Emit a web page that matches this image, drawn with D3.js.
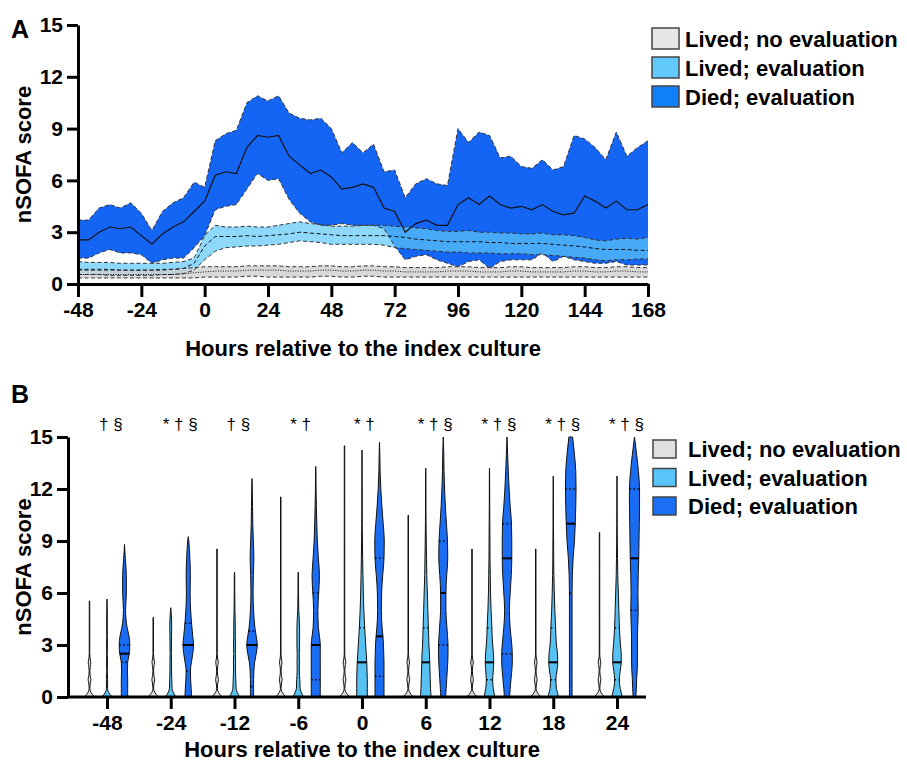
<!doctype html>
<html>
<head>
<meta charset="utf-8">
<title>nSOFA score</title>
<script src="https://d3js.org/d3.v7.min.js"></script>
<style>
  body { margin: 0; background: #ffffff; }
  svg text { font-family: "Liberation Sans", Arial, Helvetica, sans-serif; }
</style>
</head>
<body>
<script>
// ---------- Panel A data (median and IQR, every 4 h) ----------
var hours = [-48,-44,-40,-36,-32,-28,-24,-20,-16,-12,-8,-4,
             0,4,8,12,16,20,24,28,32,36,40,44,
             48,52,56,60,64,68,72,76,80,84,88,92,
             96,100,104,108,112,116,120,124,128,132,136,140,
             144,148,152,156,160,164,168];

var diedHi = [3.7,3.7,4.4,4.6,4.4,4.7,4.1,3.1,4.2,4.7,5.0,5.9,
              5.6,8.3,8.7,8.9,10.5,10.9,10.6,10.9,9.9,9.6,9.5,9.6,
              9.0,7.6,8.2,7.6,8.1,6.5,6.6,5.0,5.8,6.1,5.8,5.7,
              9.0,8.2,8.8,8.6,7.3,7.4,6.8,6.7,7.2,6.6,6.8,8.6,
              8.4,7.9,7.2,8.8,7.4,7.9,8.3];
var diedMid = [2.55,2.55,3.0,3.3,3.2,3.3,2.8,2.3,2.9,3.3,3.6,4.2,
               4.8,6.3,6.5,6.4,7.9,8.6,8.5,8.6,7.4,6.9,6.4,6.6,
               6.2,5.5,5.6,5.8,5.6,4.4,4.2,3.0,3.5,3.7,3.4,3.4,
               4.6,5.0,4.6,5.1,4.6,4.4,4.5,4.3,4.6,4.2,4.0,4.1,
               5.1,4.8,4.4,4.8,4.3,4.3,4.6];
var diedLo = [1.5,1.5,1.8,2.0,1.8,1.8,1.7,1.2,1.4,1.5,1.5,2.1,
              2.8,4.3,4.5,4.6,5.5,6.4,6.0,6.1,4.9,4.1,3.6,3.4,
              3.4,3.5,3.4,3.4,3.4,3.2,2.2,1.4,1.6,1.7,1.4,1.2,
              1.0,1.3,1.4,0.9,1.3,1.4,1.4,1.4,1.8,1.3,1.6,1.4,
              1.3,1.2,1.2,1.3,1.1,1.1,1.1];

var evalHi = [1.3,1.25,1.25,1.25,1.2,1.2,1.2,1.2,1.2,1.25,1.3,1.5,
              2.8,3.4,3.3,3.3,3.35,3.3,3.3,3.4,3.5,3.6,3.5,3.45,
              3.35,3.35,3.35,3.4,3.4,3.4,3.35,3.3,3.25,3.2,3.1,3.05,
              3.05,3.1,3.0,3.0,2.95,2.95,2.9,2.9,2.95,2.85,2.85,2.8,
              2.7,2.55,2.5,2.6,2.65,2.6,2.7];
var evalMid = [0.85,0.85,0.85,0.85,0.8,0.8,0.8,0.8,0.85,0.85,0.9,1.2,
               2.2,2.75,2.75,2.75,2.8,2.75,2.8,2.85,2.9,3.0,2.95,2.9,
               2.85,2.8,2.8,2.8,2.8,2.8,2.75,2.7,2.6,2.55,2.5,2.45,
               2.45,2.45,2.45,2.4,2.4,2.35,2.35,2.35,2.35,2.3,2.25,2.2,
               2.15,2.05,2.0,2.0,2.0,1.95,1.95];
var evalLo = [0.55,0.55,0.55,0.5,0.5,0.5,0.5,0.5,0.55,0.55,0.6,0.8,
              1.4,1.9,2.1,2.15,2.2,2.2,2.25,2.3,2.4,2.5,2.45,2.4,
              2.3,2.3,2.3,2.3,2.3,2.25,2.1,2.05,2.0,1.95,1.9,1.85,
              1.85,1.8,1.8,1.8,1.75,1.75,1.75,1.7,1.7,1.65,1.6,1.55,
              1.5,1.4,1.35,1.4,1.4,1.45,1.45];

var noEvalHi = [0.8,0.8,0.8,0.8,0.8,0.8,0.8,0.8,0.8,0.85,0.9,0.95,
                1.0,1.0,1.0,1.0,1.05,1.05,1.05,1.05,1.0,1.0,1.0,1.05,
                1.05,1.0,1.0,1.05,1.05,1.0,1.0,0.95,0.95,0.95,0.95,1.0,
                1.0,1.0,0.95,0.95,0.95,1.0,1.0,0.95,0.95,0.95,0.95,1.0,
                1.0,0.95,0.95,1.0,1.0,0.95,0.95];
var noEvalMid = [0.55,0.55,0.55,0.55,0.55,0.55,0.55,0.55,0.55,0.55,0.6,0.65,
                 0.7,0.75,0.75,0.75,0.8,0.8,0.8,0.8,0.75,0.75,0.75,0.8,
                 0.8,0.75,0.75,0.8,0.8,0.75,0.75,0.7,0.7,0.7,0.7,0.75,
                 0.75,0.75,0.7,0.7,0.7,0.75,0.75,0.7,0.7,0.7,0.7,0.75,
                 0.75,0.7,0.7,0.75,0.75,0.7,0.7];
var noEvalLo = [0.35,0.35,0.35,0.35,0.35,0.35,0.35,0.35,0.35,0.35,0.35,0.35,
                0.4,0.4,0.4,0.4,0.45,0.45,0.4,0.4,0.4,0.4,0.4,0.45,
                0.45,0.4,0.4,0.45,0.45,0.4,0.4,0.4,0.4,0.4,0.4,0.4,
                0.4,0.4,0.4,0.4,0.4,0.4,0.4,0.4,0.4,0.4,0.4,0.4,
                0.4,0.4,0.4,0.4,0.4,0.4,0.4];

var xTicksA = [-48,-24,0,24,48,72,96,120,144,168];
var yTicks = [0,3,6,9,12,15];
var groupNames = ["Lived; no evaluation", "Lived; evaluation", "Died; evaluation"];

// ---------- Panel B data (violins) ----------
var times = ["-48","-24","-12","-6","0","6","12","18","24"];
var signif = ["\u2020 \u00a7","* \u2020 \u00a7","\u2020 \u00a7","* \u2020","* \u2020",
              "* \u2020 \u00a7","* \u2020 \u00a7","* \u2020 \u00a7","* \u2020 \u00a7"];

var noEvalMax = [5.55,4.6,8.55,11.55,14.5,10.5,8.55,8.55,9.5];
var evalMax   = [5.65,5.15,7.2,7.2,14.25,13.2,13.2,12.75,12.75];
var diedMax   = [8.8,9.25,12.6,13.3,14.7,15,15,15,15];

var evalMed = [0,0,0,0,2,2,2,2,2];
var evalQ1  = [0,0,0,0,0,0,1,1,1];
var evalQ3  = [0,0,0,0,4,4,4,4,4];
var diedMed = [2.5,3,3,3,3.5,6,8,10,8];
var diedQ1  = [2,1.5,0.6,1,1.2,3,2.5,6,5];
var diedQ3  = [3,4.25,3.8,6,8,9,10,12,12];

// relative violin width at these score levels
var shapeLevels = [0,0.25,0.5,1,1.5,2,2.5,3,3.5,4,5,6,7,8,9,10,11,12,13,14,15];
var noEvalLevels = [0,0.25,0.5,0.75,1,1.25,1.5,1.75,2,2.25,2.5,3];
var noEvalShape  = [1,0.3,0.06,0.12,0.26,0.12,0.06,0.12,0.24,0.1,0.05,0.05];

var evalShapes = [
  [1,.35,.1,.12,.05,.1,.05,.08,.05,.06,.05],
  [1,.5,.25,.2,.15,.15,.12,.15,.15,.18,.05],
  [1,.55,.3,.25,.18,.2,.15,.18,.15,.15,.08,.05,.04],
  [1,.6,.35,.3,.2,.22,.2,.25,.25,.25,.1,.05,.04],
  [1,1,1,1,.95,.9,.8,.7,.6,.5,.35,.25,.18,.12,.08,.05,.04,.03,.02,.02],
  [1,.95,.9,.85,.8,.75,.7,.6,.55,.5,.4,.3,.2,.15,.1,.06,.04,.03,.02],
  [1,.85,.7,.6,.7,.8,.75,.6,.5,.45,.3,.2,.15,.1,.08,.06,.04,.03,.02],
  [1,.8,.6,.5,.7,.85,.8,.6,.5,.45,.3,.2,.12,.08,.06,.04,.03,.02],
  [1,.8,.6,.45,.6,.8,.8,.65,.55,.45,.35,.25,.15,.1,.06,.04,.03,.02]
];
var diedShapes = [
  [.6,.6,.6,.6,.55,.6,.9,1,.85,.5,.2,.35,.35,.15],
  [.6,.6,.55,.45,.4,.6,.85,1,.85,.7,.45,.35,.4,.3,.1],
  [.3,.3,.3,.3,.35,.5,.8,1,.8,.55,.3,.2,.25,.35,.25,.15,.1,.05],
  [.85,.85,.85,.85,.85,.85,.85,.85,.7,.5,.4,.55,.7,.5,.3,.2,.12,.06,.04],
  [.85,.85,.85,.85,.85,.85,.8,.75,.65,.5,.35,.4,.6,.85,.9,.7,.45,.25,.12,.06],
  [.45,.5,.55,.65,.75,.85,.9,.9,.8,.7,.5,.5,.65,.85,.8,.6,.4,.25,.15,.1,0],
  [.5,.55,.6,.75,.9,1,1,.9,.75,.6,.45,.6,.8,.9,.9,.85,.6,.4,.25,.12,0],
  [.25,.25,.25,.25,.25,.25,.25,.25,.25,.25,.25,.25,.3,.45,.7,.85,.95,1,.95,.7,.35],
  [.25,.3,.35,.4,.5,.55,.55,.55,.55,.6,.7,.65,.7,.8,.85,.9,.95,.95,.75,.4,0]
];

var W = 907, H = 763;
var svg = d3.select("body").append("svg").attr("width", W).attr("height", H);

function styleAxis(g) {
  g.selectAll(".domain").attr("stroke", "#000").attr("stroke-width", 3);
  g.selectAll(".tick line").attr("stroke", "#000").attr("stroke-width", 3);
  g.selectAll(".tick text").attr("fill", "#000")
    .style("font-size", "21px").style("font-weight", "bold");
}
var plainNum = function(d) { return String(d); };  // hyphen minus, as in the figure

// ================= Panel A =================
var xA = d3.scaleLinear().domain([-48, 168]).range([78, 648]);
var yA = d3.scaleLinear().domain([0, 15]).range([284, 25]);

svg.append("clipPath").attr("id", "clipA").append("rect")
  .attr("x", xA(-48)).attr("y", yA(15))
  .attr("width", xA(168) - xA(-48)).attr("height", yA(0) - yA(15));

var bandsA = [
  {lo: diedLo, mid: diedMid, hi: diedHi, fill: "#1565f5", op: 1, midDash: null, midW: 1.2},
  {lo: evalLo, mid: evalMid, hi: evalHi, fill: "#5cc8fa", op: 0.7, midDash: "4,2.5", midW: 1},
  {lo: noEvalLo, mid: noEvalMid, hi: noEvalHi, fill: "#cfcfcf", op: 0.8, midDash: "1,1.5", midW: 1}
];

var idx = hours.map(function(h, i) { return i; });
var layerA = svg.append("g").attr("clip-path", "url(#clipA)");

bandsA.forEach(function(b) {
  var area = d3.area()
    .x(function(i) { return xA(hours[i]); })
    .y0(function(i) { return yA(b.lo[i]); })
    .y1(function(i) { return yA(b.hi[i]); });
  layerA.append("path").datum(idx).attr("d", area)
    .attr("fill", b.fill).attr("fill-opacity", b.op);
});

bandsA.forEach(function(b) {
  [b.lo, b.hi].forEach(function(arr) {
    var line = d3.line().x(function(i) { return xA(hours[i]); })
      .y(function(i) { return yA(arr[i]); });
    layerA.append("path").datum(idx).attr("d", line)
      .attr("fill", "none").attr("stroke", "#333").attr("stroke-width", 1)
      .attr("stroke-dasharray", "4,2.5");
  });
  var mline = d3.line().x(function(i) { return xA(hours[i]); })
    .y(function(i) { return yA(b.mid[i]); });
  layerA.append("path").datum(idx).attr("d", mline)
    .attr("fill", "none").attr("stroke", "#111").attr("stroke-width", b.midW)
    .attr("stroke-dasharray", b.midDash);
});

var gxA = svg.append("g").attr("transform", "translate(0," + yA(0) + ")")
  .call(d3.axisBottom(xA).tickValues(xTicksA).tickFormat(plainNum)
    .tickSize(13).tickSizeOuter(0).tickPadding(5));
styleAxis(gxA);
var gyA = svg.append("g").attr("transform", "translate(" + xA(-48) + ",0)")
  .call(d3.axisLeft(yA).tickValues(yTicks).tickFormat(plainNum)
    .tickSize(11).tickSizeOuter(0).tickPadding(4));
styleAxis(gyA);

svg.append("text").attr("x", (xA(-48) + xA(168)) / 2).attr("y", 356)
  .attr("text-anchor", "middle").style("font-size", "22px").style("font-weight", "bold")
  .text("Hours relative to the index culture");
svg.append("text").attr("transform", "translate(31," + ((yA(0) + yA(15)) / 2) + ") rotate(-90)")
  .attr("text-anchor", "middle").style("font-size", "22px").style("font-weight", "bold")
  .text("nSOFA score");
svg.append("text").attr("x", 11).attr("y", 38).style("font-size", "25px")
  .style("font-weight", "bold").text("A");

var legColorsA = ["#e6e6e6", "#62c9fc", "#127ffa"];
var legA = svg.append("g");
groupNames.forEach(function(n, i) {
  var y0 = 28 + i * 29;
  legA.append("rect").attr("x", 652).attr("y", y0).attr("width", 27).attr("height", 21)
    .attr("fill", legColorsA[i]).attr("stroke", "#444").attr("stroke-width", 1.5);
  legA.append("text").attr("x", 685).attr("y", y0 + 18.5)
    .style("font-size", "22px").style("font-weight", "bold").text(n);
});

// ================= Panel B =================
var yB = d3.scaleLinear().domain([0, 15]).range([697, 437]);
var xB = d3.scalePoint().domain(times).range([107, 617]);
var sub = d3.scalePoint().domain(groupNames).range([-17.5, 17.5]);
var halfW = 5.3;
var violinFill = ["#e2e2e2", "#57c1f3", "#1a6cf2"];

function violinPoints(levels, widths, max) {
  var pts = [];
  levels.forEach(function(l, k) {
    if (l < max && k < widths.length) pts.push([l, widths[k]]);
  });
  var top = widths.length > pts.length ? widths[pts.length] : 0;
  pts.push([max, top]);
  return pts;
}
function widthAt(pts, v) {
  for (var k = 1; k < pts.length; k++) {
    if (v <= pts[k][0]) {
      var t = (v - pts[k-1][0]) / (pts[k][0] - pts[k-1][0]);
      return pts[k-1][1] + t * (pts[k][1] - pts[k-1][1]);
    }
  }
  return pts[pts.length - 1][1];
}

var violins = [];
times.forEach(function(t, i) {
  var g0 = violinPoints(noEvalLevels, noEvalShape, noEvalMax[i]);
  g0.splice(g0.length - 1, 0, [noEvalMax[i] - 0.01, 0.04]);
  violins.push({t: t, s: 0, pts: g0, med: 0, q1: null, q3: null});
  violins.push({t: t, s: 1, pts: violinPoints(shapeLevels, evalShapes[i], evalMax[i]),
                med: evalMed[i], q1: evalQ1[i], q3: evalQ3[i]});
  violins.push({t: t, s: 2, pts: violinPoints(shapeLevels, diedShapes[i], diedMax[i]),
                med: diedMed[i], q1: diedQ1[i], q3: diedQ3[i]});
});

var layerB = svg.append("g");
violins.forEach(function(v) {
  var cx = xB(v.t) + sub(groupNames[v.s]);
  var area = d3.area().curve(d3.curveMonotoneY)
    .y(function(d) { return yB(d[0]); })
    .x0(function(d) { return cx - d[1] * halfW; })
    .x1(function(d) { return cx + d[1] * halfW; });
  layerB.append("path").datum(v.pts).attr("d", area)
    .attr("fill", violinFill[v.s]).attr("stroke", "#111").attr("stroke-width", 1);
  if (v.med > 0) {
    var w = widthAt(v.pts, v.med) * halfW;
    layerB.append("line").attr("x1", cx - w).attr("x2", cx + w)
      .attr("y1", yB(v.med)).attr("y2", yB(v.med))
      .attr("stroke", "#000").attr("stroke-width", 2);
  }
  [v.q1, v.q3].forEach(function(q) {
    if (q == null || q <= 0) return;
    var wq = widthAt(v.pts, q) * halfW;
    layerB.append("line").attr("x1", cx - wq).attr("x2", cx + wq)
      .attr("y1", yB(q)).attr("y2", yB(q))
      .attr("stroke", "#000").attr("stroke-width", 1.5).attr("stroke-dasharray", "1.5,2.5");
  });
});

var gxB = svg.append("g").attr("transform", "translate(0," + yB(0) + ")")
  .call(d3.axisBottom(xB).tickSize(12).tickSizeOuter(0).tickPadding(6));
gxB.select(".domain").remove();
gxB.append("line").attr("x1", 68).attr("x2", 646).attr("y1", 0).attr("y2", 0)
  .attr("stroke", "#000").attr("stroke-width", 3);
styleAxis(gxB);
var gyB = svg.append("g").attr("transform", "translate(68,0)")
  .call(d3.axisLeft(yB).tickValues(yTicks).tickFormat(plainNum)
    .tickSize(11).tickSizeOuter(0).tickPadding(4));
styleAxis(gyB);

svg.append("g").selectAll("text").data(times).join("text")
  .attr("x", function(t) { return xB(t) - 8; }).attr("y", 430)
  .style("font-size", "17px").text(function(t, i) { return signif[i]; });

svg.append("text").attr("x", 362).attr("y", 757)
  .attr("text-anchor", "middle").style("font-size", "22px").style("font-weight", "bold")
  .text("Hours relative to the index culture");
svg.append("text").attr("transform", "translate(31," + ((yB(0) + yB(15)) / 2) + ") rotate(-90)")
  .attr("text-anchor", "middle").style("font-size", "22px").style("font-weight", "bold")
  .text("nSOFA score");
svg.append("text").attr("x", 11).attr("y", 403).style("font-size", "25px")
  .style("font-weight", "bold").text("B");

var legColorsB = ["#e0e0e0", "#59c4f7", "#1b6ff5"];
var legB = svg.append("g");
groupNames.forEach(function(n, i) {
  var y0 = 440 + i * 28.5;
  legB.append("rect").attr("x", 653).attr("y", y0).attr("width", 23).attr("height", 18)
    .attr("fill", legColorsB[i]).attr("stroke", "#444").attr("stroke-width", 1.5);
  legB.append("text").attr("x", 688).attr("y", y0 + 17)
    .style("font-size", "22px").style("font-weight", "bold").text(n);
});
</script>
</body>
</html>
